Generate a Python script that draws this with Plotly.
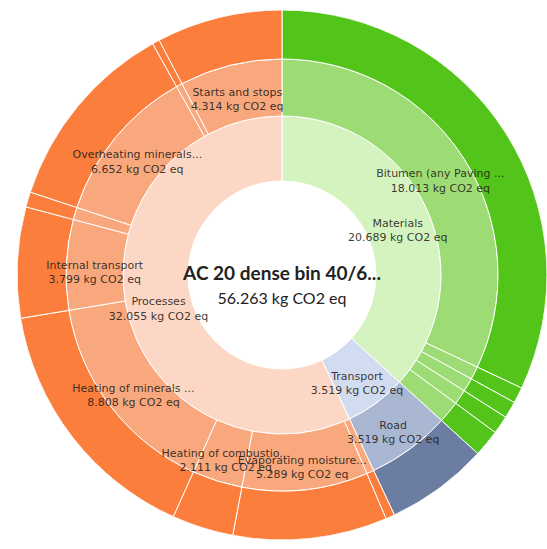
import plotly.graph_objects as go

# ---------------- data ----------------
root_name = "AC 20 dense bin 40/6..."
root_value = 56.263
unit = "kg CO2 eq"

cat_names = ["Materials", "Transport", "Processes"]
cat_values = [20.689, 3.519, 32.055]

sub_names = ["Bitumen (any Paving ...", "Material 2", "Material 3", "Material 4", "Material 5",
             "Road",
             "Process A", "Evaporating moisture...", "Heating of combustio...",
             "Heating of minerals ...", "Internal transport", "Process B",
             "Overheating minerals...", "Process C", "Starts and stops"]
sub_parents = ["Materials"] * 5 + ["Transport"] + ["Processes"] * 9
sub_values = [18.013, 0.547, 0.578, 0.625, 0.926,
              3.519,
              0.310, 5.289, 2.111, 8.808, 3.799, 0.520, 6.652, 0.252, 4.314]
sub_labelled = [True, False, False, False, False,
                True,
                False, True, True, True, True, False, True, False, True]

# outer ring: one leaf per sub item
leaf_values = list(sub_values)

# ---------------- styling ----------------
ring_colors = {
    "Materials": ["#d4f3bf", "#9ddc74", "#52c41a"],
    "Transport": ["#d2dcf0", "#a9b7d3", "#6b7ea1"],
    "Processes": ["#fdd7c5", "#f9a87d", "#fb7e3c"],
}
R0, R1, R2, R3 = 94, 159, 216, 265


def spans(values):
    out, start = [], 0.0
    for v in values:
        w = v / root_value * 360.0
        out.append((start + w / 2.0, w))
        start += w
    return out


fig = go.Figure()

theta, width, base, rr, colors = [], [], [], [], []
lab_r, lab_t, lab_txt = [], [], []

# ring 1
for (c, w), name, v in zip(spans(cat_values), cat_names, cat_values):
    theta.append(c); width.append(w); base.append(R0); rr.append(R1 - R0)
    colors.append(ring_colors[name][0])
    lab_r.append((R0 + R1) / 2); lab_t.append(c)
    lab_txt.append(f" <br>{name}<br>{v:.3f} {unit}")

# ring 2 and ring 3
for (c, w), name, par, v, lab in zip(spans(sub_values), sub_names, sub_parents, sub_values, sub_labelled):
    theta.append(c); width.append(w); base.append(R1); rr.append(R2 - R1)
    colors.append(ring_colors[par][1])
    if lab:
        lab_r.append((R1 + R2) / 2); lab_t.append(c)
        lab_txt.append(f" <br>{name}<br>{v:.3f} {unit}")

for (c, w), par in zip(spans(leaf_values), sub_parents):
    theta.append(c); width.append(w); base.append(R2); rr.append(R3 - R2)
    colors.append(ring_colors[par][2])

fig.add_trace(go.Barpolar(
    r=rr, theta=theta, width=width, base=base,
    marker=dict(color=colors, line=dict(color="white", width=1)),
    hoverinfo="skip",
))

fig.add_trace(go.Scatterpolar(
    r=lab_r, theta=lab_t, mode="text", text=lab_txt,
    textposition="middle center",
    textfont=dict(family="DejaVu Sans", size=11, color="rgba(40,30,25,0.9)"),
    hoverinfo="skip",
))

fig.add_trace(go.Scatterpolar(
    r=[0], theta=[0], mode="text",
    text=[f" <br><b>{root_name}</b><br><span style='font-size:16px;font-weight:normal'>{root_value:.3f} {unit}</span>"],
    textposition="middle center",
    textfont=dict(family="Lato", size=19, color="#222222"),
    hoverinfo="skip",
))

fig.update_layout(
    width=547, height=549,
    margin=dict(l=17, r=0, t=10, b=9),
    paper_bgcolor="white",
    showlegend=False,
    polar=dict(
        bgcolor="white",
        hole=0,
        radialaxis=dict(visible=False, range=[0, R3]),
        angularaxis=dict(visible=False, rotation=90, direction="clockwise"),
    ),
)

fig.write_html("out.html")
